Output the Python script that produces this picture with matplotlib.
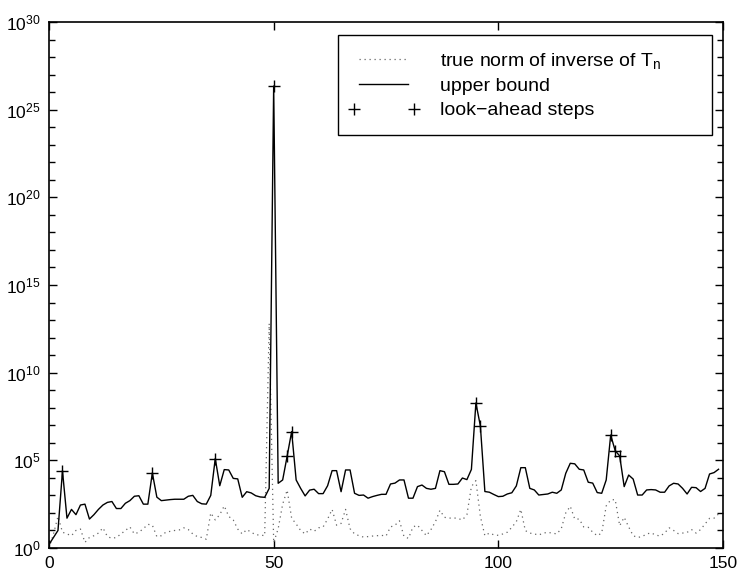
import numpy as np
import matplotlib
matplotlib.use("Agg")
import matplotlib.pyplot as plt
from matplotlib.ticker import FixedLocator, LogLocator, NullFormatter
from matplotlib.legend_handler import HandlerLine2D

plt.rcParams['font.family'] = ['Liberation Sans', 'DejaVu Sans']
plt.rcParams['mathtext.fontset'] = 'custom'
plt.rcParams['mathtext.rm'] = 'Liberation Sans'
plt.rcParams['mathtext.it'] = 'Liberation Sans:italic'

# step index n = 0 .. 149
steps = np.arange(150)

# log10 of the upper bound
upper_exp = [
    0.2, 0.6, 1.0, 4.4, 1.7, 2.2, 1.9, 2.45, 2.5, 1.65,
    1.9, 2.2, 2.45, 2.6, 2.65, 2.25, 2.25, 2.55, 2.7, 2.95,
    2.98, 2.5, 2.5, 4.28, 2.9, 2.7, 2.73, 2.76, 2.78, 2.78,
    2.78, 2.95, 3.0, 2.65, 2.52, 2.5, 3.0, 5.1, 3.55, 4.47,
    4.45, 3.97, 3.94, 2.89, 3.21, 3.14, 2.98, 2.91, 2.89, 3.4,
    26.35, 3.69, 3.88, 5.24, 6.64, 3.88, 3.4, 2.97, 3.3, 3.35,
    3.1, 3.1, 3.55, 4.41, 4.41, 3.21, 4.45, 4.45, 3.12, 3.0,
    3.02, 2.84, 2.93, 3.0, 3.06, 3.06, 3.65, 3.7, 3.88, 3.88,
    2.84, 2.84, 3.5, 3.59, 3.4, 3.35, 3.4, 4.41, 4.35, 3.63,
    3.63, 3.65, 3.99, 3.9, 4.48, 8.27, 6.96, 3.22, 3.18, 3.05,
    2.93, 2.95, 3.08, 3.15, 3.54, 4.58, 4.58, 3.4, 3.31, 3.02,
    3.05, 3.08, 3.18, 3.12, 3.31, 4.26, 4.83, 4.8, 4.49, 4.45,
    3.75, 3.7, 3.16, 3.12, 3.88, 6.44, 5.55, 5.25, 3.5, 4.16,
    3.93, 3.02, 3.02, 3.31, 3.33, 3.31, 3.18, 3.18, 3.54, 3.69,
    3.65, 3.4, 3.08, 3.46, 3.44, 3.22, 3.4, 4.22, 4.3, 4.49,
]

# log10 of the true norm of inverse of T_n
true_exp = [
    0.0, 0.8, 1.8, 0.9, 0.8, 0.7, 1.0, 1.08, 0.32, 0.6,
    0.7, 0.85, 1.15, 0.65, 0.55, 0.6, 0.8, 1.0, 1.2, 0.8,
    0.9, 1.1, 1.35, 1.3, 0.65, 0.7, 0.9, 0.95, 1.0, 1.03,
    1.15, 1.05, 0.8, 0.65, 0.6, 0.5, 2.0, 1.6, 1.9, 2.4,
    1.8, 1.6, 1.08, 0.8, 1.05, 0.9, 0.75, 0.74, 0.7, 12.8,
    0.3, 1.1, 2.5, 3.3, 1.7, 1.37, 1.0, 0.8, 1.08, 0.95,
    1.15, 1.2, 1.65, 2.2, 1.3, 1.4, 2.2, 1.1, 0.8, 0.7,
    0.62, 0.65, 0.68, 0.7, 0.72, 0.68, 1.2, 1.3, 1.55, 0.65,
    0.55, 1.2, 1.3, 1.0, 0.7, 1.05, 1.5, 2.15, 1.75, 1.7,
    1.72, 1.68, 1.6, 1.9, 3.5, 3.84, 1.8, 0.7, 0.85, 0.75,
    0.72, 0.8, 0.9, 1.18, 1.5, 2.2, 0.99, 0.85, 0.8, 0.74,
    0.85, 0.89, 0.85, 0.8, 1.1, 2.0, 2.38, 1.65, 1.65, 1.2,
    1.18, 0.9, 0.7, 0.85, 2.4, 2.74, 2.76, 1.27, 1.75, 1.2,
    0.7, 0.6, 0.65, 0.8, 0.86, 0.74, 0.68, 0.85, 1.15, 1.0,
    0.82, 0.85, 0.89, 1.05, 0.85, 1.05, 1.37, 1.69, 1.7, 1.94,
]

# steps where a look-ahead step was taken
lookahead = [3, 23, 37, 50, 53, 54, 95, 96, 125, 126, 127]

upper = 10.0 ** np.array(upper_exp)
true_norm = 10.0 ** np.array(true_exp)

fig = plt.figure(figsize=(7.39, 5.72), dpi=100)
ax = fig.add_axes([0.0663, 0.042, 0.9121, 0.9195])

ax.semilogy(steps, true_norm, color='0.4', linestyle=(0, (1, 3)), lw=0.9,
            label='true norm of inverse of T$_{\\mathrm{n}}$')
ax.semilogy(steps, upper, color='black', lw=1.0, label='upper bound')
marks, = ax.semilogy(lookahead, upper[lookahead], linestyle='none',
                     marker='+', color='black', ms=8, mew=1.0,
                     label='look\u2212ahead steps')

ax.set_xlim(0, 150)
ax.set_ylim(1e0, 1e30)
ax.set_xticks([0, 50, 100, 150])
ax.yaxis.set_major_locator(FixedLocator([10.0 ** k for k in range(0, 31, 5)]))
ax.yaxis.set_minor_locator(LogLocator(base=10.0, subs=(1.0,), numticks=40))
ax.yaxis.set_minor_formatter(NullFormatter())

ax.tick_params(which='both', direction='in', top=True, right=True,
               labelsize=12.5, width=1.0)
ax.tick_params(which='major', length=6, pad=6)
ax.tick_params(which='minor', length=4)
for s in ax.spines.values():
    s.set_linewidth(1.2)

leg = ax.legend(loc='upper left', bbox_to_anchor=(0.4288, 0.9753, 0.555, 0.0),
                mode='expand', borderaxespad=0, numpoints=2, fontsize=14,
                fancybox=False, edgecolor='black', framealpha=1,
                borderpad=0.8, handlelength=3.1, handletextpad=1.35,
                labelspacing=0.35,
                handler_map={marks: HandlerLine2D(marker_pad=0.0)})
leg.get_frame().set_linewidth(1.0)

fig.savefig('out.png', dpi=100)
